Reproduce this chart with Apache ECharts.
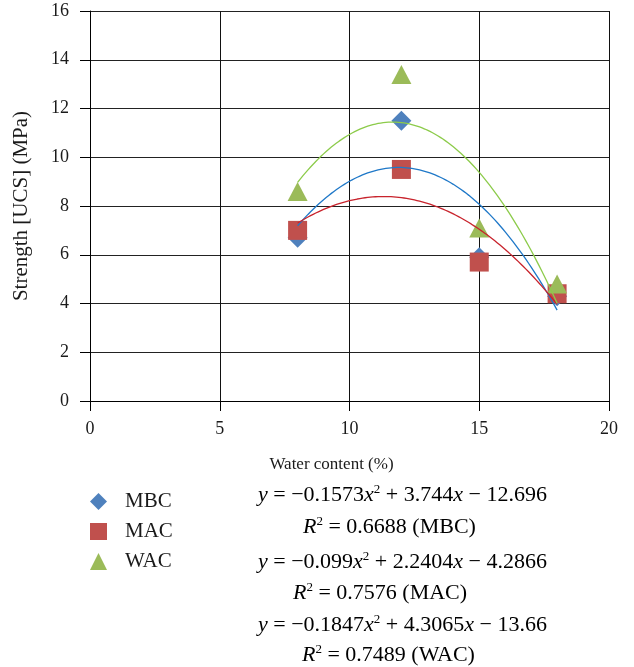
<!DOCTYPE html>
<html>
<head>
<meta charset="utf-8">
<script src="https://cdn.jsdelivr.net/npm/echarts@6/dist/echarts.min.js"></script>
<style>
  html, body { margin: 0; padding: 0; background: #fff; }
  #chart { width: 634px; height: 667px; }
</style>
</head>
<body>
<div id="chart"></div>
<script>
// water content (%)
var waterContent = [8, 12, 15, 18];
// UCS strength (MPa)
var mbcValues = [6.7, 11.5, 5.9, 4.3];
var macValues = [7.0, 9.5, 5.7, 4.4];
var wacValues = [8.6, 13.4, 7.1, 4.8];
// trendline coefficients as printed: y = a x^2 + b x + c
var mbcFit = [-0.1573, 3.744, -12.696];
var macFit = [-0.099, 2.2404, -4.2866];
var wacFit = [-0.1847, 4.3065, -13.66];
var r2 = ["0.6688", "0.7576", "0.7489"];
var seriesNames = ["MBC", "MAC", "WAC"];

var FONT = "Liberation Serif";
var INK = "#1a1a1a";

function pairs(xs, ys) {
  return xs.map(function (x, i) { return [x, ys[i]]; });
}
// trendline drawn from the printed polynomial over the data range
function trend(coef) {
  var pts = [];
  for (var i = 0; i <= 100; i++) {
    var x = 8 + i * 0.1;
    pts.push([x, coef[0] * x * x + coef[1] * x + coef[2]]);
  }
  return pts;
}

var chart = echarts.init(document.getElementById("chart"));

var eqRich = {
  t: { fontFamily: FONT, fontSize: 22, color: INK },
  i: { fontFamily: FONT, fontSize: 22, fontStyle: "italic", color: INK },
  s: { fontFamily: FONT, fontSize: 13, color: INK, verticalAlign: "bottom", padding: [0, 0, 11, 0] }
};
function eq(coef) {
  return "{i|y}{t| = \u2212" + (-coef[0]) + "}{i|x}{s|2}{t| + " + coef[1] +
    "}{i|x}{t| \u2212 " + (-coef[2]) + "}";
}
function r2line(k) {
  return "{i|R}{s|2}{t| = " + r2[k] + " (" + seriesNames[k] + ")}";
}
// [text, left x, centre y]
var eqLines = [
  [eq(mbcFit), 258, 495],
  [r2line(0), 303, 527],
  [eq(macFit), 258, 562],
  [r2line(1), 293, 593],
  [eq(wacFit), 258, 625],
  [r2line(2), 302, 655]
];

chart.setOption({
  animation: false,
  grid: { left: 90, right: 25, top: 11, bottom: 266, show: false, outerBoundsMode: "none" },
  legend: {
    orient: "vertical",
    left: 90,
    top: 491,
    padding: 0,
    itemGap: 9,
    itemWidth: 17,
    itemHeight: 17,
    data: [
      { name: "MBC", icon: "diamond" },
      { name: "MAC", icon: "rect" },
      { name: "WAC", icon: "triangle" }
    ],
    textStyle: { fontFamily: FONT, fontSize: 21, color: INK, padding: [0, 0, 0, 13] }
  },
  xAxis: {
    type: "value",
    min: 0, max: 20, interval: 5,
    name: "Water content (%)",
    nameLocation: "middle",
    nameGap: 55,
    nameTextStyle: { fontFamily: FONT, fontSize: 17, color: INK, padding: [0, 36, 0, 0] },
    axisLine: { show: true, lineStyle: { color: "#000" } },
    axisTick: { show: true, length: 10, lineStyle: { color: "#000" } },
    axisLabel: { fontFamily: FONT, fontSize: 18, color: INK, margin: 19 },
    splitLine: { show: true, lineStyle: { color: "#111", width: 1 } }
  },
  yAxis: {
    type: "value",
    min: 0, max: 16, interval: 2,
    name: "Strength [UCS] (MPa)",
    nameLocation: "middle",
    nameGap: 58,
    nameTextStyle: { fontFamily: FONT, fontSize: 21, color: INK },
    axisLine: { show: true, lineStyle: { color: "#000" } },
    axisTick: { show: true, length: 10, lineStyle: { color: "#000" } },
    axisLabel: { fontFamily: FONT, fontSize: 18, color: INK, margin: 21 },
    splitLine: { show: true, lineStyle: { color: "#222", width: 1 } }
  },
  graphic: eqLines.map(function (ln) {
    return {
      type: "text",
      style: {
        text: ln[0], rich: eqRich,
        x: ln[1], y: ln[2],
        textAlign: "left", textVerticalAlign: "middle"
      }
    };
  }),
  series: [
    {
      name: "MBC", type: "scatter", symbol: "diamond", symbolSize: 20,
      itemStyle: { color: "#4F81BD", opacity: 1 }, z: 2,
      data: pairs(waterContent, mbcValues)
    },
    {
      name: "MAC", type: "scatter", symbol: "rect", symbolSize: 19,
      itemStyle: { color: "#C0504D", opacity: 1 }, z: 3,
      data: pairs(waterContent, macValues)
    },
    {
      name: "WAC", type: "scatter", symbol: "triangle", symbolSize: [20, 19],
      itemStyle: { color: "#9BBB59", opacity: 1 }, z: 4,
      data: pairs(waterContent, wacValues)
    },
    {
      name: "MBC trend", type: "line", showSymbol: false, z: 5,
      lineStyle: { color: "#1F78C8", width: 1.3 },
      data: trend(mbcFit)
    },
    {
      name: "MAC trend", type: "line", showSymbol: false, z: 5,
      lineStyle: { color: "#C8232C", width: 1.3 },
      data: trend(macFit)
    },
    {
      name: "WAC trend", type: "line", showSymbol: false, z: 5,
      lineStyle: { color: "#8CCB4A", width: 1.3 },
      data: trend(wacFit)
    }
  ]
});
</script>
</body>
</html>
